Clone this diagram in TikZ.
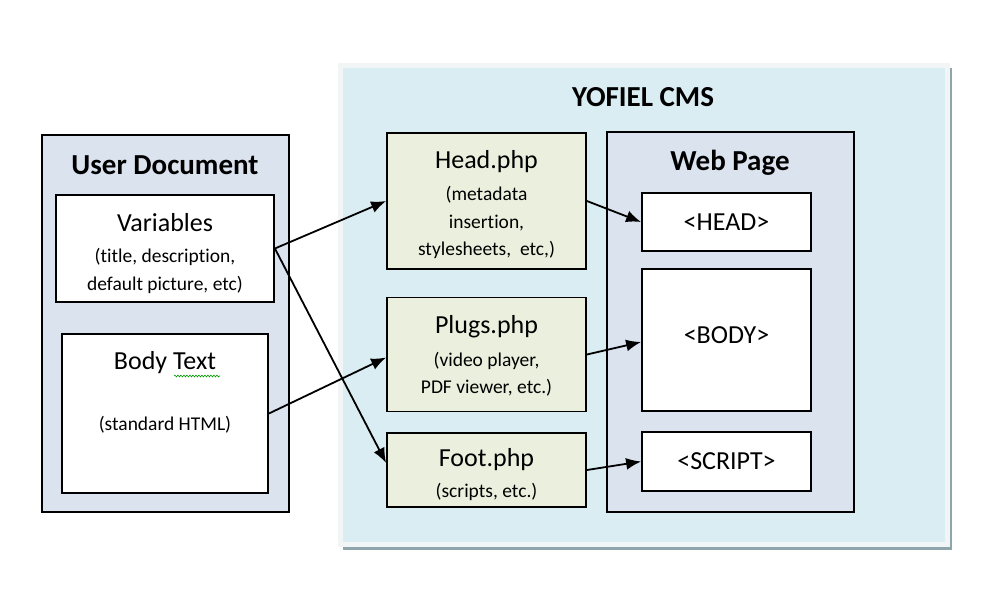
\documentclass[tikz,border=0pt]{standalone}
\usepackage{fontspec}
\setmainfont[Ligatures=NoCommon]{Carlito}
\usetikzlibrary{positioning, arrows.meta, decorations.pathmorphing}
\definecolor{cmsblue}{HTML}{DAEDF3}
\definecolor{cmsrim}{HTML}{F1F5F5}
\definecolor{cmsshade}{HTML}{8FA5AE}
\definecolor{docblue}{HTML}{DBE3EF}
\definecolor{phpgreen}{HTML}{EBF0DE}
\tikzset{
	>={Latex[length=15pt,width=12pt]}, % filled arrow heads
	x=1pt, y=-1pt, % one unit is one pixel of the layout, y runs down
	panel/.style={draw, line width=1.8pt, fill=docblue, inner sep=0pt}, % the two outer blocks
	blank/.style={draw, line width=1.8pt, fill=white, inner sep=0pt}, % white boxes
	php/.style={draw, line width=1.8pt, fill=phpgreen, inner sep=0pt}, % the php scripts
	heading/.style={font=\bfseries\fontsize{29}{34}\selectfont},
	big/.style={font=\fontsize{26}{31}\selectfont},
	note/.style={font=\fontsize{19.5}{27.5}\selectfont, align=center},
	link/.style={->, line width=1.8pt},
}

\begin{document}
\begin{tikzpicture}
	\useasboundingbox (0,0) rectangle (1000,595);
	% CMS frame with its shadow
	\fill[cmsshade] (343,68) rectangle (952,550);
	\draw[cmsrim, line width=5pt, fill=cmsblue] (340.5,65.5) rectangle (947.5,544.5);
	\node[heading] (cms) at (643,97) {YOFIEL CMS};

	% user document
	\node[panel, minimum width=247pt, minimum height=377pt] (doc) at (165.5,323.5) {};
	\node[heading] (doctitle) at (165,165) {User Document};
	\node[blank, minimum width=218pt, minimum height=107pt] (vars) at (165,248.5) {};
	\node[big] (varstitle) at (165,223) {Variables};
	\node[note] (varsnote) at (165,271) {(title, description,\\default picture, etc)};
	\node[blank, minimum width=206pt, minimum height=159pt] (body) at (165,413.5) {};
	\node[big] (bodytitle) at (165,363) {Body Text};
	\draw[green!60!black, line width=0.6pt, decorate,
		decoration={snake, amplitude=0.9pt, segment length=3pt}] (174,376) -- (220,376);
	\node[note] (bodynote) at (165,425) {(standard HTML)};

	% php scripts
	\node[php, minimum width=199pt, minimum height=136pt] (head) at (486.5,201) {};
	\node[big] (headtitle) at (486.5,162) {Head.php};
	\node[note] (headnote) at (486.5,222.5) {(metadata\\insertion,\\stylesheets,\ \ etc,)};
	\node[php, minimum width=199pt, minimum height=114pt] (plugs) at (486.5,354.5) {};
	\node[big] (plugstitle) at (486.5,327) {Plugs.php};
	\node[note] (plugsnote) at (486.5,374) {(video player,\\PDF viewer, etc.)};
	\node[php, minimum width=199pt, minimum height=74pt] (foot) at (486.5,470) {};
	\node[big] (foottitle) at (486.5,460) {Foot.php};
	\node[note] (footnote) at (486.5,492) {(scripts, etc.)};

	% web page
	\node[panel, minimum width=247pt, minimum height=380pt] (page) at (730.5,322) {};
	\node[heading] (pagetitle) at (730,163) {Web Page};
	\node[blank, big, minimum width=169pt, minimum height=58pt] (headtag) at (726.5,222) {<HEAD>};
	\node[blank, big, minimum width=169pt, minimum height=142pt] (bodytag) at (726.5,340) {};
	\node[big] (bodytagtext) at (726.5,335) {<BODY>};
	\node[blank, big, minimum width=169pt, minimum height=59pt] (scripttag) at (726.5,461.5) {<SCRIPT>};

	\draw	(vars.east) edge[link] (head.west)
			(vars.east) edge[link] ([yshift=7pt]foot.west)
			(body.east) edge[link] ([yshift=-3pt]plugs.west)
			(head.east) edge[link] (headtag.west)
			(plugs.east) edge[link] ([yshift=-2pt]bodytag.west)
			(foot.east) edge[link] (scripttag.west);
\end{tikzpicture}
\end{document}
